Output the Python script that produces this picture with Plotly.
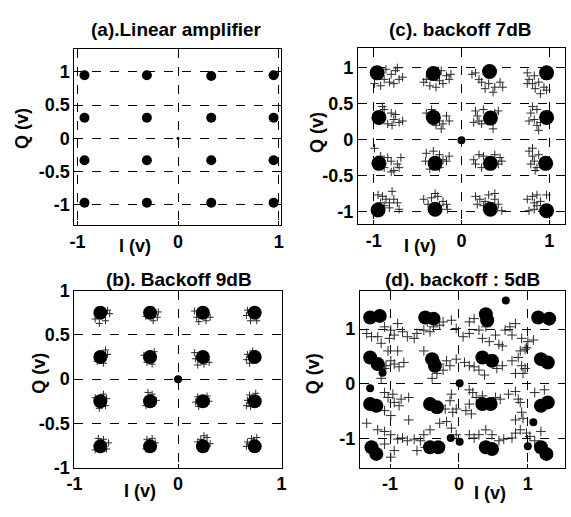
import plotly.graph_objects as go

# ---------------- data ----------------
# (a) Linear amplifier: constellation clusters
a_blob_i = [-0.93, -0.31, 0.33, 0.95, -0.93, -0.31, 0.33, 0.95, -0.93, -0.31, 0.33, 0.95, -0.93, -0.31, 0.33, 0.95]
a_blob_q = [0.95, 0.95, 0.94, 0.95, 0.31, 0.31, 0.31, 0.31, -0.33, -0.33, -0.33, -0.33, -0.97, -0.97, -0.97, -0.97]
a_orig_i = [0.0]
a_orig_q = [0.0]

# (b) Backoff 9dB
b_blob_i = [-0.75, -0.27, 0.24, 0.74, -0.75, -0.27, 0.24, 0.74, -0.75, -0.27, 0.24, 0.74, -0.75, -0.27, 0.24, 0.74, 0.0]
b_blob_q = [0.75, 0.75, 0.75, 0.75, 0.25, 0.25, 0.25, 0.25, -0.25, -0.25, -0.25, -0.25, -0.76, -0.76, -0.76, -0.76, 0.0]
b_plus_i = [-0.66, -0.70, -0.76, -0.80, -0.68, -0.19, -0.24, -0.31, -0.20, 0.16, 0.20, 0.27, 0.31, 0.18,
            0.66, 0.70, 0.76, 0.67, -0.68, -0.72, -0.78, -0.70, -0.33, -0.30, -0.23, -0.25,
            0.16, 0.19, 0.25, 0.17, 0.30, 0.67, 0.69, 0.72, 0.66,
            -0.72, -0.69, -0.76, -0.80, -0.70, -0.29, -0.25, -0.21, -0.31,
            0.19, 0.17, 0.28, 0.30, 0.20, 0.69, 0.67, 0.75, 0.70, 0.66,
            -0.77, -0.72, -0.67, -0.69, -0.80, -0.30, -0.25, -0.22, -0.31,
            0.19, 0.25, 0.28, 0.31, 0.22, 0.67, 0.71, 0.76, 0.66, 0.73]
b_plus_q = [0.74, 0.66, 0.63, 0.68, 0.78, 0.76, 0.66, 0.71, 0.70, 0.77, 0.65, 0.66, 0.70, 0.70,
            0.72, 0.66, 0.66, 0.78, 0.28, 0.18, 0.20, 0.33, 0.27, 0.19, 0.31, 0.17,
            0.30, 0.16, 0.17, 0.23, 0.19, 0.28, 0.18, 0.32, 0.22,
            -0.17, -0.22, -0.33, -0.21, -0.30, -0.15, -0.17, -0.24, -0.30,
            -0.20, -0.26, -0.19, -0.25, -0.31, -0.18, -0.24, -0.16, -0.31, -0.30,
            -0.67, -0.68, -0.72, -0.79, -0.80, -0.68, -0.67, -0.72, -0.79,
            -0.71, -0.64, -0.66, -0.73, -0.68, -0.71, -0.67, -0.66, -0.76, -0.69]

# (c) backoff 7dB
c_blob_i = [-0.96, -0.32, 0.32, 0.97, -0.94, -0.32, 0.33, 0.97, -0.94, -0.30, 0.33, 0.96, -0.95, -0.30, 0.33, 0.97, 0.0]
c_blob_q = [0.93, 0.92, 0.95, 0.93, 0.31, 0.31, 0.30, 0.31, -0.33, -0.33, -0.33, -0.33, -0.98, -0.97, -0.97, -0.99, -0.01]
c_plus_i = [-0.88, -0.80, -0.75, -0.71, -0.82, -0.92, -0.99, -0.77, -0.67, -0.86, -0.73,
            -0.40, -0.43, -0.25, -0.21, -0.17, -0.14, -0.36, -0.29, -0.23, -0.12,
            0.12, 0.20, 0.23, 0.31, 0.38, 0.44, 0.47, 0.27, 0.36, 0.16,
            0.75, 0.77, 0.81, 0.84, 0.88, 0.94, 0.97, 0.83, 0.90, 0.75,
            -0.88, -0.80, -0.77, -0.71, -0.84, -0.90, -0.75, -0.67, -0.79,
            -0.40, -0.25, -0.21, -0.17, -0.29, -0.34, -0.23, -0.14,
            0.16, 0.20, 0.23, 0.18, 0.25, 0.38, 0.42, 0.36, 0.14,
            0.79, 0.83, 0.86, 0.81, 0.90, 0.88, 0.77, 0.86,
            -0.99, -0.92, -0.84, -0.80, -0.73, -0.69, -0.77, -0.80, -0.71, -0.88,
            -0.40, -0.32, -0.25, -0.21, -0.17, -0.41, -0.25, -0.36, -0.14,
            0.14, 0.20, 0.25, 0.38, 0.44, 0.46, 0.16, 0.23, 0.42,
            0.77, 0.81, 0.83, 0.86, 0.84, 0.79, 0.88, 0.81,
            -0.95, -0.90, -0.86, -0.82, -0.77, -0.73, -0.79, -0.88, -0.71, -0.82, -0.92,
            -0.43, -0.34, -0.27, -0.21, -0.17, -0.25, -0.38, -0.30, -0.16,
            0.16, 0.21, 0.27, 0.31, 0.38, 0.42, 0.18, 0.25, 0.46, 0.38,
            0.75, 0.81, 0.83, 0.86, 0.83, 0.77, 0.86, 0.97, 0.90]
c_plus_q = [0.84, 0.91, 0.96, 0.84, 0.80, 0.75, 0.78, 0.78, 0.87, 0.98, 1.00,
            0.84, 0.80, 0.82, 0.78, 0.89, 0.84, 0.75, 0.73, 0.96, 0.91,
            0.91, 0.84, 0.80, 0.78, 0.73, 0.80, 0.73, 0.71, 0.66, 0.93,
            0.93, 0.84, 0.78, 0.71, 0.80, 0.73, 0.69, 0.89, 0.64, 0.78,
            0.42, 0.37, 0.28, 0.24, 0.22, 0.46, 0.35, 0.26, 0.20,
            0.37, 0.26, 0.22, 0.33, 0.20, 0.42, 0.15, 0.26,
            0.40, 0.26, 0.22, 0.33, 0.42, 0.37, 0.40, 0.15, 0.24,
            0.37, 0.28, 0.20, 0.46, 0.24, 0.13, 0.26, 0.42,
            -0.12, -0.23, -0.25, -0.30, -0.34, -0.25, -0.43, -0.45, -0.39, -0.39,
            -0.19, -0.16, -0.21, -0.28, -0.30, -0.30, -0.39, -0.41, -0.23,
            -0.28, -0.21, -0.23, -0.21, -0.25, -0.30, -0.34, -0.39, -0.34,
            -0.16, -0.23, -0.30, -0.39, -0.43, -0.34, -0.21, -0.12,
            -0.77, -0.79, -0.83, -0.88, -0.83, -0.88, -0.72, -0.92, -0.97, -0.95, -0.88,
            -0.83, -0.81, -0.79, -0.86, -0.90, -0.92, -0.90, -0.75, -0.97,
            -0.79, -0.83, -0.86, -0.77, -0.83, -0.90, -0.90, -0.92, -0.99, -0.75,
            -0.83, -0.79, -0.88, -0.92, -0.97, -0.99, -0.77, -0.77, -0.86]

# (d) backoff : 5dB  (each cluster drawn as two overlapping dots)
d_blob_i = [-1.29, -1.15, -0.49, -0.37, 0.39, 0.41, 1.15, 1.31,
            -1.29, -1.18, -0.39, -0.35, 0.34, 0.48, 1.19, 1.29,
            -1.29, -1.20, -0.42, -0.32, 0.34, 0.46, 1.19, 1.29,
            -1.27, -1.20, -0.42, -0.30, 0.39, 0.48, 1.19, 1.27]
d_blob_q = [1.21, 1.24, 1.21, 1.19, 1.27, 1.16, 1.21, 1.19,
            0.48, 0.36, 0.45, 0.33, 0.48, 0.42, 0.45, 0.39,
            -0.37, -0.40, -0.37, -0.43, -0.37, -0.37, -0.40, -0.34,
            -1.16, -1.28, -1.16, -1.16, -1.16, -1.19, -1.16, -1.28]
d_dot_i = [0.68, 0.01, -1.29, -1.11, 0.01, -0.12, 1.08, 1.00]
d_dot_q = [1.52, 0.01, -0.08, 0.20, -1.06, -0.99, -0.70, -1.14]
d_plus_i = [-1.08, -0.99, -0.89, -0.82, -1.18, -1.34, -1.27, -1.13, -1.01, -0.94, -0.75, -0.65, -0.61, -0.42,
            -0.28, -0.23, -0.11, -0.04, 0.06, 0.15, 0.15, 0.22, 0.29, 0.34, 0.44, 0.53, 0.58, 0.63,
            0.74, 0.82, 0.91, 1.00, 1.08, 0.96, 0.77, 0.67, 0.39, -0.37, -0.51, -0.46,
            -1.03, -0.89, -0.99, -0.94, -0.87, -0.80, -1.08, -1.13, -1.06, -0.51, -0.28, -0.18, -0.13, -0.23,
            -0.32, -0.39, -0.04, 0.08, 0.15, 0.22, 0.29, 0.37, 0.55, 0.63, 0.77, 0.86, 0.91, 0.96, 0.89,
            0.98, 0.82, 0.93,
            -1.08, -1.03, -0.96, -0.94, -0.87, -0.84, -0.99, -1.08, -0.73, -0.73, -1.34, -0.28, -0.20,
            -0.13, -0.11, -0.09, -0.04, 0.15, 0.20, 0.25, 0.15, 0.18, 0.10, 0.34, 0.53, 0.60, 0.72,
            0.82, 0.86, 0.89, 0.91, 0.93, 0.82, 1.10, 1.24,
            -1.18, -1.08, -0.99, -0.89, -0.82, -1.08, -0.94, -0.75, -0.65, -0.56, -0.51, -0.42, -0.28,
            -0.18, -0.49, -0.61, -0.11, -0.04, 0.15, 0.22, 0.29, 0.39, 0.48, 0.58, 0.65, 0.77, 0.82,
            0.89, 0.98, 1.03, 1.10, 1.19, -0.99]
d_plus_q = [1.04, 0.98, 1.10, 0.95, 0.86, 0.92, 0.86, 0.74, 0.83, 0.89, 0.86, 0.83, 0.92, 0.95,
            1.07, 1.13, 1.16, 1.01, 0.86, 0.92, 1.13, 1.19, 0.98, 0.83, 0.77, 0.89, 0.72, 0.69,
            1.04, 1.10, 0.83, 0.77, 0.80, 0.63, 0.89, 0.98, 1.04, 1.04, 0.98, 1.13,
            0.60, 0.60, 0.42, 0.36, 0.31, 0.39, 0.28, 0.10, 0.33, 0.60, 0.36, 0.42, 0.33, 0.25,
            0.19, 0.10, 0.45, 0.39, 0.33, 0.31, 0.25, 0.16, 0.28, 0.33, 0.42, 0.48, 0.33, 0.28, 0.60,
            0.66, 0.19, 0.19,
            -0.16, -0.25, -0.19, -0.34, -0.40, -0.28, -0.58, -0.49, -0.25, -0.66, -0.72, -0.40, -0.46,
            -0.31, -0.19, -0.52, -0.46, -0.11, -0.16, -0.25, -0.37, -0.55, -0.49, -0.22, -0.25, -0.28, -0.19,
            -0.14, -0.28, -0.34, -0.52, -0.63, -0.66, -0.16, -0.11,
            -0.84, -0.87, -0.93, -1.01, -0.99, -1.10, -1.22, -1.04, -1.01, -1.04, -0.93, -0.84, -0.72,
            -0.69, -1.16, -1.22, -0.81, -0.93, -0.93, -0.99, -0.93, -0.84, -0.93, -1.04, -1.01, -0.99, -0.90,
            -0.84, -0.90, -0.96, -1.04, -0.87, -1.34]

x_ticks_1 = [-1, 0, 1]
y_ticks_5 = [1, 0.5, 0, -0.5, -1]
y_ticks_3 = [1, 0, -1]
titles = ["(a).Linear amplifier", "(c). backoff 7dB", "(b). Backoff 9dB", "(d). backoff : 5dB"]

# ---------------- figure ----------------
W, H = 571, 517
FONT = "Liberation Sans, Arial, sans-serif"

def px(x):
    return x / W

def py(y):
    return 1 - y / H

fig = go.Figure()

def blob(x, y, xa, ya, size):
    fig.add_trace(go.Scatter(x=x, y=y, xaxis=xa, yaxis=ya, mode="markers",
                             marker=dict(symbol="circle", size=size, color="black", line=dict(width=0)),
                             hoverinfo="skip"))

def plus(x, y, xa, ya, size, color="#2a2a2a"):
    fig.add_trace(go.Scatter(x=x, y=y, xaxis=xa, yaxis=ya, mode="markers",
                             marker=dict(symbol="cross-thin", size=size, color=color,
                                         line=dict(width=1, color=color)),
                             hoverinfo="skip"))

# (a)
blob(a_blob_i, a_blob_q, "x", "y", 10)
blob(a_orig_i, a_orig_q, "x", "y", 3)
# (c)
plus(c_plus_i, c_plus_q, "x2", "y2", 6)
blob(c_blob_i[:-1], c_blob_q[:-1], "x2", "y2", 15)
blob(c_blob_i[-1:], c_blob_q[-1:], "x2", "y2", 8)
# (b)
plus(b_plus_i, b_plus_q, "x3", "y3", 5)
blob(b_blob_i[:-1], b_blob_q[:-1], "x3", "y3", 14)
blob(b_blob_i[-1:], b_blob_q[-1:], "x3", "y3", 8)
# (d)
plus(d_plus_i, d_plus_q, "x4", "y4", 7)
blob(d_blob_i, d_blob_q, "x4", "y4", 14)
blob(d_dot_i, d_dot_q, "x4", "y4", 8)

tickfont = dict(family=FONT, size=18, color="black", weight="bold")

def fmt(v):
    return "0" if v == 0 else ("%g" % v)

def ax(domain, rng, tv):
    return dict(domain=domain, range=rng, tickvals=tv, ticktext=[fmt(v) for v in tv],
                showline=True, mirror=True, linecolor="black", linewidth=1,
                showgrid=True, gridcolor="black", gridwidth=1, griddash="dash",
                zeroline=False, ticks="inside", ticklen=4, tickcolor="black",
                tickfont=tickfont, fixedrange=True)

layout = dict(
    width=W, height=H, margin=dict(l=0, r=0, t=0, b=0),
    paper_bgcolor="white", plot_bgcolor="white", showlegend=False,
    xaxis=ax([px(68), px(279)], [-1.03, 1.02], x_ticks_1),
    yaxis=ax([py(224), py(41)], [-1.31, 1.34], y_ticks_5),
    xaxis2=ax([px(358), px(570)], [-1.18, 1.18], x_ticks_1),
    yaxis2=ax([py(223), py(40)], [-1.18, 1.27], y_ticks_5),
    xaxis3=ax([px(68), px(280)], [-1, 1], x_ticks_1),
    yaxis3=ax([py(476), py(292)], [-1, 1], y_ticks_5),
    xaxis4=ax([px(360), px(570)], [-1.44, 1.54], x_ticks_1),
    yaxis4=ax([py(476), py(292)], [-1.53, 1.70], y_ticks_3),
)
for k in ["", "2", "3", "4"]:
    layout["xaxis" + k]["anchor"] = "y" + k
    layout["yaxis" + k]["anchor"] = "x" + k
fig.update_layout(**layout)

ann = []
title_pos = [(172, 20), (463, 20), (175, 280), (465, 280)]
for t, (x, y) in zip(titles, title_pos):
    ann.append(dict(text=t, x=px(x), y=py(y), xref="paper", yref="paper", showarrow=False,
                    xanchor="center", yanchor="middle",
                    font=dict(family=FONT, size=19, color="black", weight="bold")))
q_pos = [(15, 123), (316, 127), (32, 378), (312, 378)]
for (x, y) in q_pos:
    ann.append(dict(text="Q (v)", x=px(x), y=py(y), xref="paper", yref="paper", showarrow=False,
                    textangle=-90, xanchor="center", yanchor="middle",
                    font=dict(family=FONT, size=18, color="black", weight="bold")))
i_pos = [(130, 245), (422, 245), (135, 500), (493, 502)]
for (x, y) in i_pos:
    ann.append(dict(text="I (v)", x=px(x), y=py(y), xref="paper", yref="paper", showarrow=False,
                    xanchor="center", yanchor="middle",
                    font=dict(family=FONT, size=18, color="black", weight="bold")))
fig.update_layout(annotations=ann)

fig.write_html("out.html", post_script="document.body.style.margin='0';",
               config={"displayModeBar": False})
